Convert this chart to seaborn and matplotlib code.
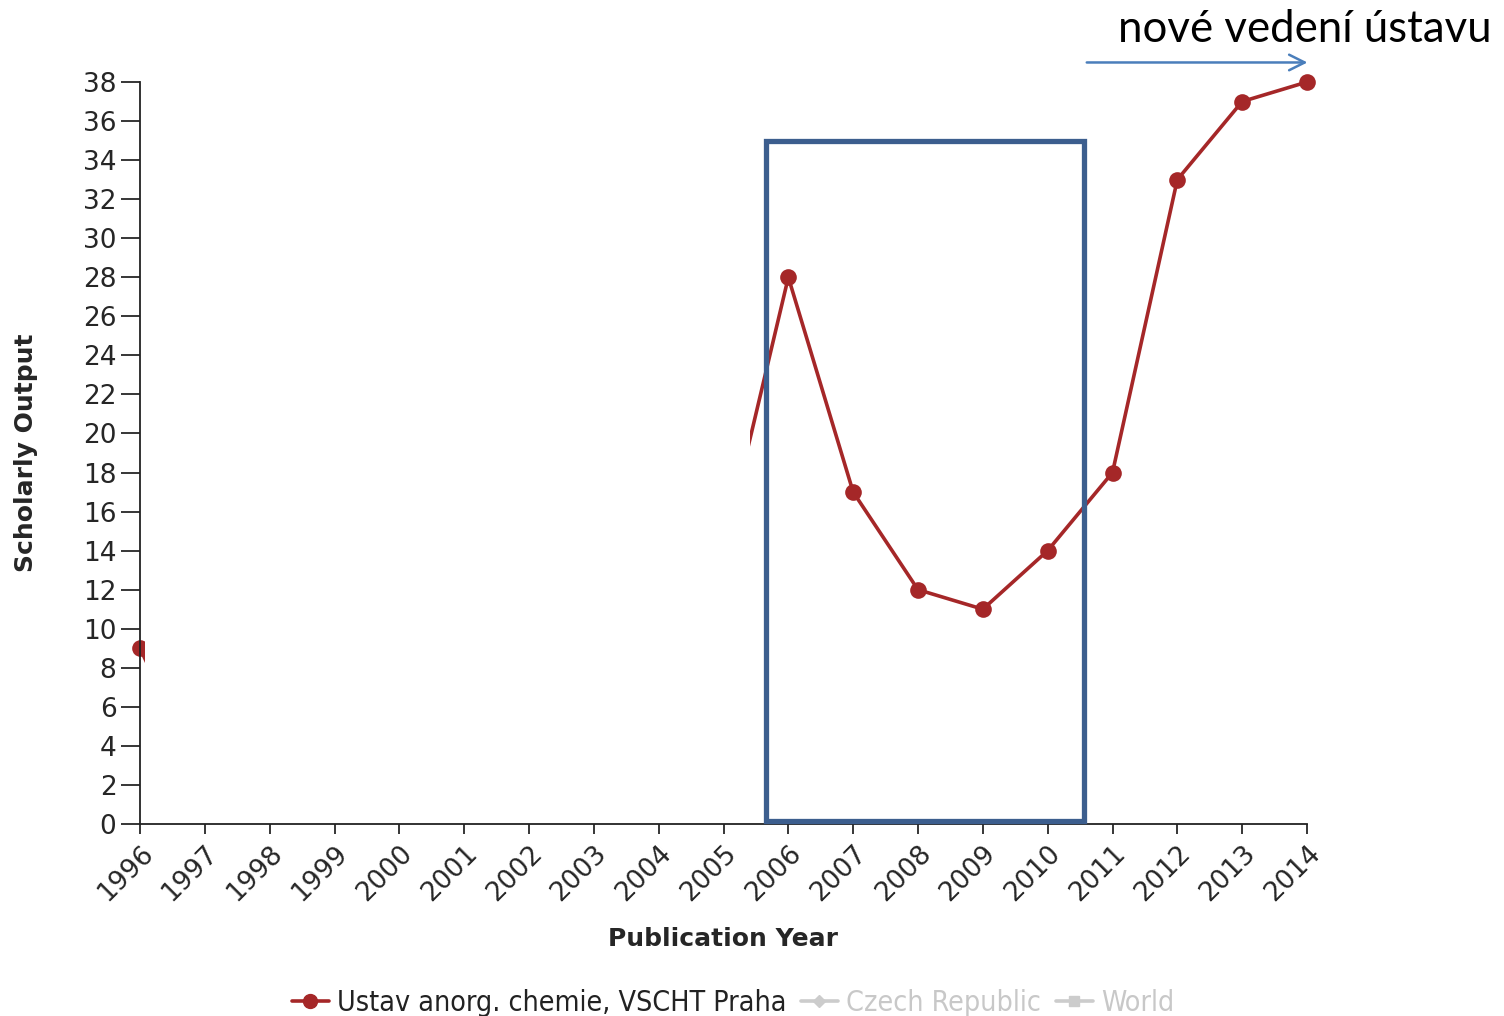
import numpy as np
import pandas as pd
import matplotlib
matplotlib.use('Agg')
import matplotlib.pyplot as plt
import seaborn as sns
from matplotlib.lines import Line2D
from matplotlib.patches import Rectangle

# data (1998-2004 are hidden behind a white box in the source)
years = list(range(1996, 2015))
output = [9, 2, np.nan, np.nan, np.nan, np.nan, np.nan, np.nan, np.nan, 14,
          28, 17, 12, 11, 14, 18, 33, 37, 38]
series_names = ['Ustav anorg. chemie, VSCHT Praha', 'Czech Republic', 'World']
y_ticks = list(range(0, 39, 2))

# hidden region and highlighted period
cover_years = (1996.08, 2005.41)
box_years = (2005.66, 2010.56)
box_values = (0.15, 35)

df = pd.DataFrame({'Publication Year': years, 'Scholarly Output': output})

sns.set_style('ticks')
plt.rcParams['font.family'] = 'sans-serif'
plt.rcParams['font.sans-serif'] = ['DejaVu Sans']

fig = plt.figure(figsize=(15.04, 10.16), dpi=100)
ax = fig.add_axes([140 / 1504, 1 - 824 / 1016, (1307 - 140) / 1504, (824 - 82) / 1016])

red = '#a52728'
sns.lineplot(data=df, x='Publication Year', y='Scholarly Output', ax=ax,
             color=red, marker='o', markersize=12, markeredgewidth=0,
             linewidth=2.6, clip_on=False, zorder=2)

# white patch that hides the middle of the series, as in the source slide
ax.add_patch(Rectangle((cover_years[0], 0.25), cover_years[1] - cover_years[0], 40,
                       facecolor='white', edgecolor='none', zorder=2.2, clip_on=False))

# highlight box
ax.add_patch(Rectangle((box_years[0], box_values[0]), box_years[1] - box_years[0],
                       box_values[1] - box_values[0], facecolor='none',
                       edgecolor='#3c5e8e', linewidth=3.8, zorder=3, clip_on=False))

ax.set_xlim(1996, 2014)
ax.set_ylim(0, 38)
ax.set_xticks(years)
ax.set_xticklabels([str(y) for y in years], rotation=45, ha='right',
                   rotation_mode='anchor', fontsize=19, family='DejaVu Sans')
ax.set_yticks(y_ticks)
ax.set_yticklabels([str(v) for v in y_ticks], fontsize=19, family='DejaVu Sans')
ax.tick_params(axis='y', length=14, width=1.3, pad=3)
ax.tick_params(axis='x', length=7, width=1.3, pad=5)
sns.despine(ax=ax)
for s in ['left', 'bottom']:
    ax.spines[s].set_linewidth(1.3)
    ax.spines[s].set_color('#222222')

ax.set_xlabel('Publication Year', fontsize=18, fontweight='bold', family='DejaVu Sans')
ax.set_ylabel('Scholarly Output', fontsize=18, fontweight='bold', family='DejaVu Sans')
ax.yaxis.set_label_coords(-0.087, 0.5)
ax.xaxis.set_label_coords(0.5, -0.139)

# annotation: new institute leadership
ax.annotate('', xy=(2014.05, 39.0), xytext=(2010.56, 39.0),
            arrowprops=dict(arrowstyle='->', color='#4a7ebb', lw=1.8,
                            mutation_scale=28), annotation_clip=False)
fig.text(1492 / 1504, 1 - 30 / 1016, 'nové vedení ústavu', fontsize=31.5,
         family=['Lato', 'DejaVu Sans'], ha='right', va='center', color='black')

handles = [
    Line2D([], [], color=red, marker='o', markersize=10, linewidth=2.6),
    Line2D([], [], color='#cccccc', marker='D', markersize=6, linewidth=2.6),
    Line2D([], [], color='#cccccc', marker='s', markersize=7, linewidth=2.6),
]
leg = fig.legend(handles, series_names, loc='center',
                 bbox_to_anchor=(733 / 1504, 1 - 1003 / 1016), ncol=3,
                 frameon=False, handlelength=1.3, handletextpad=0.3,
                 columnspacing=0.5,
                 prop=dict(family='DejaVu Sans', size=20.5, stretch='condensed'))
for t, c in zip(leg.get_texts(), ['#222222', '#c8c8c8', '#c8c8c8']):
    t.set_color(c)

fig.savefig('out.png', dpi=100)
